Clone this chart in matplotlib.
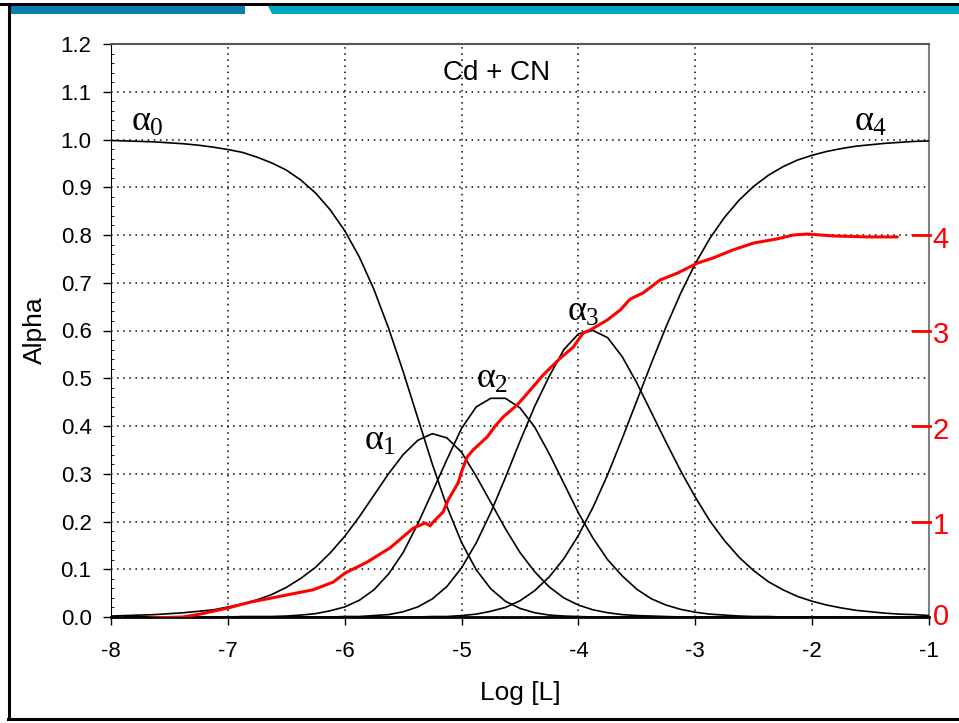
import matplotlib
matplotlib.use("Agg")
import matplotlib.pyplot as plt
from matplotlib.patches import Polygon, Rectangle
from matplotlib.lines import Line2D
import numpy as np

plt.rcParams['font.family'] = ['Liberation Sans', 'DejaVu Sans']
plt.rcParams['mathtext.fontset'] = 'custom'
plt.rcParams['mathtext.rm'] = 'Liberation Serif'
plt.rcParams['mathtext.it'] = 'Liberation Serif'
plt.rcParams['mathtext.bf'] = 'Liberation Serif:bold'

log_L = [-8.0, -7.875, -7.75, -7.625, -7.5, -7.375, -7.25, -7.125,
         -7.0, -6.875, -6.75, -6.625, -6.5, -6.375, -6.25, -6.125,
         -6.0, -5.875, -5.75, -5.625, -5.5, -5.375, -5.25, -5.125,
         -5.0, -4.875, -4.75, -4.625, -4.5, -4.375, -4.25, -4.125,
         -4.0, -3.875, -3.75, -3.625, -3.5, -3.375, -3.25, -3.125,
         -3.0, -2.875, -2.75, -2.625, -2.5, -2.375, -2.25, -2.125,
         -2.0, -1.875, -1.75, -1.625, -1.5, -1.375, -1.25, -1.125, -1.0]

alpha0 = [0.998, 0.997, 0.996, 0.995, 0.993, 0.991, 0.988, 0.984,
          0.979, 0.973, 0.963, 0.951, 0.936, 0.915, 0.888, 0.853,
          0.809, 0.754, 0.686, 0.605, 0.514, 0.417, 0.320, 0.231,
          0.156, 0.099, 0.059, 0.033, 0.018, 0.009, 0.004, 0.002,
          0.001, 0.0, 0.0, 0.0, 0.0, 0.0, 0.0, 0.0,
          0.0, 0.0, 0.0, 0.0, 0.0, 0.0, 0.0, 0.0,
          0.0, 0.0, 0.0, 0.0, 0.0, 0.0, 0.0, 0.0, 0.0]
alpha1 = [0.002, 0.003, 0.004, 0.005, 0.007, 0.009, 0.012, 0.015,
          0.021, 0.027, 0.036, 0.047, 0.062, 0.081, 0.104, 0.134,
          0.169, 0.210, 0.255, 0.300, 0.340, 0.370, 0.384, 0.375,
          0.345, 0.295, 0.240, 0.185, 0.135, 0.095, 0.063, 0.040,
          0.025, 0.015, 0.009, 0.005, 0.003, 0.002, 0.001, 0.0,
          0.0, 0.0, 0.0, 0.0, 0.0, 0.0, 0.0, 0.0,
          0.0, 0.0, 0.0, 0.0, 0.0, 0.0, 0.0, 0.0, 0.0]
alpha2 = [0.0, 0.0, 0.0, 0.0, 0.0, 0.0, 0.0, 0.0,
          0.0, 0.001, 0.001, 0.001, 0.002, 0.004, 0.007, 0.013,
          0.021, 0.035, 0.057, 0.090, 0.135, 0.195, 0.262, 0.330,
          0.395, 0.440, 0.458, 0.458, 0.438, 0.398, 0.342, 0.280,
          0.218, 0.165, 0.120, 0.086, 0.058, 0.038, 0.025, 0.016,
          0.010, 0.006, 0.004, 0.002, 0.001, 0.001, 0.0, 0.0,
          0.0, 0.0, 0.0, 0.0, 0.0, 0.0, 0.0, 0.0, 0.0]
alpha3 = [0.0, 0.0, 0.0, 0.0, 0.0, 0.0, 0.0, 0.0,
          0.0, 0.0, 0.0, 0.0, 0.0, 0.0, 0.0, 0.0,
          0.001, 0.001, 0.003, 0.005, 0.011, 0.021, 0.038, 0.064,
          0.103, 0.155, 0.219, 0.292, 0.368, 0.441, 0.504, 0.560,
          0.593, 0.600, 0.585, 0.545, 0.490, 0.428, 0.366, 0.306,
          0.251, 0.201, 0.160, 0.125, 0.097, 0.074, 0.057, 0.043,
          0.033, 0.025, 0.019, 0.014, 0.011, 0.008, 0.006, 0.005, 0.003]
alpha4 = [0.0, 0.0, 0.0, 0.0, 0.0, 0.0, 0.0, 0.0,
          0.0, 0.0, 0.0, 0.0, 0.0, 0.0, 0.0, 0.0,
          0.0, 0.0, 0.0, 0.0, 0.0, 0.0, 0.001, 0.001,
          0.003, 0.006, 0.012, 0.020, 0.034, 0.055, 0.084, 0.122,
          0.171, 0.230, 0.298, 0.374, 0.453, 0.532, 0.608, 0.678,
          0.740, 0.793, 0.837, 0.873, 0.902, 0.925, 0.943, 0.957,
          0.967, 0.975, 0.981, 0.986, 0.989, 0.992, 0.994, 0.996, 0.997]

# hand-drawn average ligand number (scaled: n/5)
red_x = [-7.906, -7.795, -7.666, -7.384, -7.238, -6.998, -6.810, -6.664, -6.271, -6.099,
         -5.997, -5.808, -5.611, -5.414, -5.312, -5.269, -5.243, -5.158, -5.115, -5.029,
         -4.995, -4.952, -4.901, -4.781, -4.712, -4.644, -4.524, -4.413, -4.301, -4.156,
         -4.045, -3.959, -3.899, -3.753, -3.642, -3.556, -3.445, -3.300, -3.154, -2.983,
         -2.846, -2.675, -2.503, -2.298, -2.161, -2.041, -1.818, -1.527, -1.271]
red_y = [-0.002, -0.008, -0.002, 0.000, 0.006, 0.019, 0.031, 0.038, 0.057, 0.073,
         0.092, 0.115, 0.145, 0.186, 0.197, 0.191, 0.199, 0.220, 0.245, 0.281,
         0.308, 0.335, 0.350, 0.377, 0.400, 0.419, 0.444, 0.475, 0.507, 0.542,
         0.565, 0.595, 0.601, 0.622, 0.643, 0.666, 0.679, 0.706, 0.720, 0.741,
         0.752, 0.769, 0.783, 0.792, 0.800, 0.802, 0.798, 0.796, 0.796]

x_ticks = [-8, -7, -6, -5, -4, -3, -2, -1]
y_ticks = [0.0, 0.1, 0.2, 0.3, 0.4, 0.5, 0.6, 0.7, 0.8, 0.9, 1.0, 1.1, 1.2]
red_marks = [0.0, 0.2, 0.4, 0.6, 0.8]
red_labels = ['0', '1', '2', '3', '4']

W, H = 959, 723
fig = plt.figure(figsize=(W / 100, H / 100), dpi=100)
ax = fig.add_axes([111 / W, 1 - 617 / H, (929 - 111) / W, (617 - 44) / H])

for a in (alpha0, alpha1, alpha2, alpha3, alpha4):
    ax.plot(log_L, a, color='black', lw=1.2, zorder=3)
ax.plot(red_x, red_y, color='#ff0000', lw=2.2, zorder=4, solid_capstyle='round')

ax.set_xlim(-8, -1)
ax.set_ylim(0, 1.2)
ax.set_xticks(x_ticks)
ax.set_xticklabels([str(t) for t in x_ticks])
ax.set_yticks(y_ticks)
ax.set_yticklabels([f"{t:.1f}" for t in y_ticks])
ax.set_yticks(np.arange(0, 1.2001, 0.02), minor=True)
ax.tick_params(axis='both', which='major', direction='out', length=6, width=1,
               labelsize=16, colors='black')
ax.tick_params(axis='y', which='minor', direction='in', length=2, width=0.6)
ax.tick_params(axis='x', which='major', pad=11)
ax.tick_params(axis='y', which='major', pad=8)
ax.grid(True, which='major', color='black', linestyle=(0, (1, 3)), lw=1.1)

ax.spines['left'].set_color('black')
ax.spines['bottom'].set_color('black')
ax.spines['bottom'].set_linewidth(2.0)
ax.spines['top'].set_color('#555555')
ax.spines['right'].set_color('#808080')
ax.spines['right'].set_linewidth(1.5)
ax.spines['top'].set_linewidth(1.5)

ax.set_xlabel('Log [L]', fontsize=19, labelpad=14)
ax.set_ylabel('Alpha', fontsize=19, labelpad=10)

ax.text(-4.70, 1.14, 'Cd + CN', fontsize=20, ha='center', va='center')
lab_kw = dict(fontsize=26, ha='center', va='center')
ax.text(-7.69, 1.037, r'$\alpha_0$', **lab_kw)
ax.text(-1.50, 1.037, r'$\alpha_4$', **lab_kw)
ax.text(-5.70, 0.37, r'$\alpha_1$', **lab_kw)
ax.text(-4.74, 0.50, r'$\alpha_2$', **lab_kw)
ax.text(-3.96, 0.64, r'$\alpha_3$', **lab_kw)

# red hand annotations on the right
for v, lab in zip(red_marks, red_labels):
    if lab != '0':
        ax.plot([-1.14, -0.99], [v, v], color='#ff0000', lw=2, clip_on=False, zorder=5)
        ax.text(-0.90, v - 0.01, lab, color='#ff0000', fontsize=21, ha='center',
                va='center', clip_on=False)
    else:
        ax.text(-0.90, v, lab, color='#ff0000', fontsize=21, ha='center',
                va='center', clip_on=False)

# slide frame
fig.add_artist(Rectangle((0, 1 - 6 / H), 1, 3 / H, transform=fig.transFigure,
                         facecolor='black', edgecolor='none'))
fig.add_artist(Rectangle((8 / W, 1 - 14 / H), (245 - 8) / W, 8 / H, transform=fig.transFigure,
                         facecolor='#0d7bb3', edgecolor='none'))
fig.add_artist(Polygon([(268 / W, 1 - 6 / H), (W / W, 1 - 6 / H), (1, 1 - 14 / H),
                        (272 / W, 1 - 14 / H)], closed=True, transform=fig.transFigure,
                       facecolor='#02a9bd', edgecolor='none'))
fig.add_artist(Line2D([8.5 / W, 8.5 / W], [1 - 5 / H, 1 - 719 / H], transform=fig.transFigure,
                      color='black', lw=2.2))
fig.add_artist(Line2D([8 / W, 1], [1 - 719 / H, 1 - 719 / H], transform=fig.transFigure,
                      color='black', lw=2.2))

fig.savefig('out.png', dpi=100)
